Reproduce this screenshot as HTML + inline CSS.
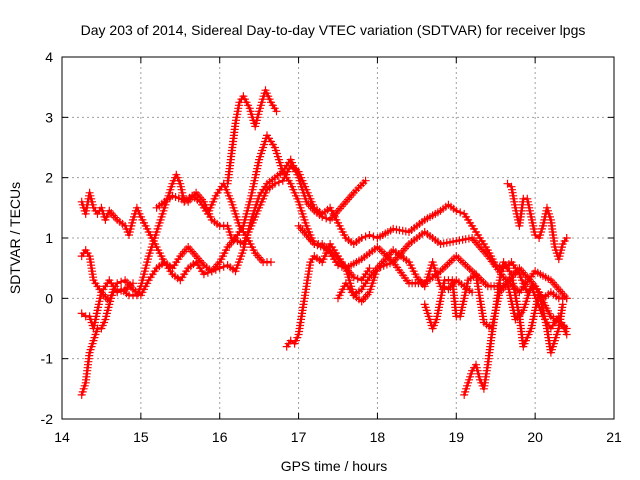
<!DOCTYPE html>
<html><head><meta charset="utf-8"><style>
body{margin:0;background:#fff}
svg{display:block;font-family:"Liberation Sans",sans-serif}
</style></head><body>
<svg id="chart" width="640" height="480">
<text x="333" y="35" text-anchor="middle" font-size="14">Day 203 of 2014, Sidereal Day-to-day VTEC variation (SDTVAR) for receiver lpgs</text>
<text x="334" y="471" text-anchor="middle" font-size="14">GPS time / hours</text>
<text transform="translate(20,238) rotate(-90)" text-anchor="middle" font-size="14">SDTVAR / TECUs</text>
<g id="grid"></g><g id="ticks"></g><g id="series"></g>
<rect x="62" y="57" width="552" height="362" fill="none" stroke="#000" stroke-width="1"/>
</svg>
<script>
const xTicks=[14,15,16,17,18,19,20,21];
const yTicks=[-2,-1,0,1,2,3,4];
const serA=[[14.25,1.6],[14.3,1.4],[14.35,1.75],[14.4,1.5],[14.45,1.4],[14.5,1.5],[14.55,1.3],[14.6,1.45],[14.7,1.3],[14.8,1.2],[14.85,1.05],[14.9,1.3],[14.95,1.5],[15.0,1.35],[15.1,1.1],[15.2,0.85],[15.3,0.6],[15.4,0.4],[15.5,0.3],[15.6,0.5],[15.7,0.6],[15.8,0.4],[15.9,0.45],[16.0,0.5],[16.1,0.55],[16.2,0.45],[16.3,0.8],[16.4,1.3],[16.5,1.7],[16.6,1.9],[16.7,2.0],[16.8,2.1],[16.9,2.3],[17.0,2.0],[17.1,1.6],[17.2,1.45],[17.3,1.35],[17.4,1.3],[17.5,1.45],[17.6,1.6],[17.7,1.75],[17.85,1.95]];
const serB=[[14.25,0.7],[14.3,0.8],[14.35,0.7],[14.4,0.3],[14.5,0.1],[14.6,-0.05],[14.65,0.1],[14.75,0.15],[14.85,0.05],[14.95,0.05],[15.0,0.2],[15.1,0.7],[15.2,1.1],[15.3,1.5],[15.4,1.9],[15.45,2.05],[15.5,1.9],[15.55,1.6],[15.65,1.7],[15.75,1.6],[15.85,1.4],[15.95,1.7],[16.05,1.9],[16.15,1.6],[16.25,1.2],[16.35,1.0],[16.45,0.75],[16.55,0.6],[16.65,0.6]];
const serC=[[14.25,-1.6],[14.3,-1.4],[14.35,-0.9],[14.4,-0.7],[14.45,-0.5],[14.5,-0.5],[14.55,-0.35],[14.6,-0.1],[14.65,0.15],[14.7,0.25],[14.8,0.3],[14.9,0.15],[15.0,0.05],[15.1,0.3],[15.2,0.5],[15.3,0.6],[15.4,0.5],[15.5,0.7],[15.6,0.85],[15.7,0.7],[15.8,0.55],[15.9,0.45],[16.0,0.6],[16.1,0.85],[16.2,1.0],[16.3,1.2],[16.4,1.7],[16.5,2.3],[16.6,2.7],[16.7,2.5],[16.8,2.1],[16.9,1.9],[17.0,1.6],[17.1,1.2],[17.2,0.9],[17.3,0.9],[17.4,0.75],[17.5,0.55],[17.6,0.5],[17.7,0.35],[17.8,0.3],[17.9,0.5]];
const serD=[[14.25,-0.25],[14.3,-0.3],[14.35,-0.3],[14.4,-0.5],[14.45,-0.2],[14.5,0.1],[14.6,0.3],[14.7,0.1],[14.8,0.15],[14.9,0.25]];
const serE=[[15.2,1.5],[15.4,1.7],[15.6,1.6],[15.7,1.75],[15.8,1.6],[15.9,1.3],[16.0,1.2],[16.1,1.2],[16.15,1.0],[16.3,0.9],[16.4,1.2],[16.5,1.5],[16.6,1.8],[16.7,1.9],[16.8,1.95],[16.9,2.2],[17.0,2.1],[17.1,1.8],[17.2,1.5],[17.3,1.4],[17.4,1.5],[17.5,1.25],[17.6,1.0],[17.7,0.9],[17.8,1.0],[17.9,1.05],[18.0,1.0],[18.2,1.15],[18.4,1.1],[18.6,1.3],[18.8,1.45],[18.9,1.55],[19.0,1.45],[19.1,1.4],[19.2,1.2],[19.3,1.0],[19.4,0.8],[19.5,0.55],[19.6,0.5],[19.7,0.6],[19.8,0.4],[19.9,0.1],[20.0,0.2],[20.1,0.0],[20.2,0.1],[20.3,0.0],[20.4,0.0]];
const serF=[[16.85,-0.8],[16.9,-0.7],[16.95,-0.75],[17.0,-0.6],[17.05,-0.2],[17.1,0.2],[17.15,0.6],[17.2,0.7],[17.3,0.6],[17.4,0.9],[17.5,0.7],[17.6,0.5],[17.7,0.05],[17.8,0.15],[17.9,0.35],[18.0,0.5],[18.2,0.6],[18.4,0.9],[18.6,1.1],[18.8,0.9],[19.0,0.95],[19.2,1.0],[19.4,0.7],[19.6,0.35],[19.8,0.1],[20.0,0.45],[20.2,0.3],[20.4,0.0]];
const serG=[[17.0,1.2],[17.2,0.9],[17.4,0.8],[17.6,0.5],[17.8,0.65],[18.0,0.85],[18.2,0.6],[18.4,0.25],[18.6,0.25],[18.8,0.45],[19.0,0.7],[19.2,0.45],[19.4,0.2],[19.6,0.2],[19.8,0.5],[20.0,0.2],[20.2,-0.3],[20.4,-0.5]];
const serH=[[17.5,0.0],[17.6,0.25],[17.7,0.05],[17.8,-0.05],[17.9,0.1],[18.0,0.5],[18.2,0.8],[18.4,0.6],[18.5,0.35],[18.6,0.2],[18.7,0.6],[18.8,0.2],[18.9,0.15],[19.0,0.3],[19.2,0.1]];
const serI=[[18.6,-0.1],[18.7,-0.5],[18.75,-0.35],[18.85,0.3],[18.95,0.3],[19.0,-0.3],[19.05,-0.3],[19.15,0.3],[19.25,0.4],[19.35,-0.4],[19.45,-0.5],[19.55,0.1],[19.65,0.25],[19.75,-0.35],[19.85,-0.2],[19.95,0.2],[20.1,-0.3],[20.2,-0.5],[20.3,-0.3],[20.4,-0.6]];
const serJ=[[19.1,-1.6],[19.15,-1.4],[19.2,-1.2],[19.25,-1.1],[19.3,-1.35],[19.35,-1.5],[19.4,-1.1],[19.45,-0.6],[19.5,-0.2],[19.55,0.3],[19.6,0.6],[19.7,0.4],[19.8,-0.3],[19.85,-0.8],[19.95,-0.5],[20.05,0.1],[20.15,-0.5],[20.2,-0.9],[20.3,-0.5],[20.35,-0.1]];
const serK=[[19.65,1.9],[19.7,1.85],[19.75,1.5],[19.8,1.2],[19.85,1.65],[19.9,1.65],[19.95,1.35],[20.0,1.05],[20.05,1.0],[20.1,1.2],[20.15,1.5],[20.2,1.3],[20.25,0.85],[20.3,0.65],[20.35,0.9],[20.4,1.0]];
const serL=[[16.1,1.9],[16.15,2.4],[16.2,2.9],[16.25,3.25],[16.3,3.35],[16.38,3.15],[16.45,2.85],[16.5,3.1],[16.58,3.45],[16.65,3.25],[16.72,3.1]];
const allSeries=[serA,serB,serC,serD,serE,serF,serG,serH,serI,serJ,serK,serL];
const X0=62,X1=614,Y0=419,Y1=57;
const xs=t=>X0+(t-14)/7*(X1-X0);
const ys=v=>Y0-(v+2)/6*(Y0-Y1);
const NS="http://www.w3.org/2000/svg";
const grid=document.getElementById('grid'),ticks=document.getElementById('ticks'),ser=document.getElementById('series');
function mk(tag,attrs,parent){const e=document.createElementNS(NS,tag);for(const k in attrs)e.setAttribute(k,attrs[k]);parent.appendChild(e);return e;}
xTicks.forEach(t=>{const x=xs(t);
 if(t>14&&t<21){const g=mk('line',{x1:x,x2:x,y1:Y1,y2:Y0,stroke:'#a0a0a0','stroke-dasharray':'2,3'},grid);
 
 }
 mk('line',{x1:x,x2:x,y1:Y0,y2:Y0-6,stroke:'#000'},ticks);
 mk('line',{x1:x,x2:x,y1:Y1,y2:Y1+6,stroke:'#000'},ticks);
 const l=mk('text',{x:x,y:Y0+23,'text-anchor':'middle','font-size':14},ticks);l.textContent=t;
 
 });
yTicks.forEach(v=>{const y=ys(v);
 if(v>-2&&v<4){const g=mk('line',{x1:X0,x2:X1,y1:y,y2:y,stroke:'#a0a0a0','stroke-dasharray':'2,3'},grid);
 
 }
 mk('line',{x1:X0,x2:X0+6,y1:y,y2:y,stroke:'#000'},ticks);
 mk('line',{x1:X1,x2:X1-6,y1:y,y2:y,stroke:'#000'},ticks);
 const l=mk('text',{x:X0-9,y:y+5,'text-anchor':'end','font-size':14},ticks);l.textContent=v;
 
 });
allSeries.forEach((s,i)=>{
 const g=mk('g',{},ser);
 
 
 mk('polyline',{points:s.map(p=>xs(p[0])+','+ys(p[1])).join(' '),fill:'none',stroke:'#f00','stroke-width':2.5,'stroke-linejoin':'round'},g);
 let d='';
 const plus=(x,y)=>{d+=`M${(x-4).toFixed(1)},${y.toFixed(1)}h8M${x.toFixed(1)},${(y-4).toFixed(1)}v8`;};
 for(let k=0;k<s.length;k++){
  const x=xs(s[k][0]),y=ys(s[k][1]);plus(x,y);
  if(k<s.length-1){const x2=xs(s[k+1][0]),y2=ys(s[k+1][1]);
   const n=Math.max(1,Math.floor(Math.hypot(x2-x,y2-y)/3));
   for(let j=1;j<n;j++){plus(x+(x2-x)*j/n,y+(y2-y)*j/n);}}
 }
 mk('path',{d:d,stroke:'#f00','stroke-width':1.2,fill:'none'},g);
});
</script>
</body></html>
